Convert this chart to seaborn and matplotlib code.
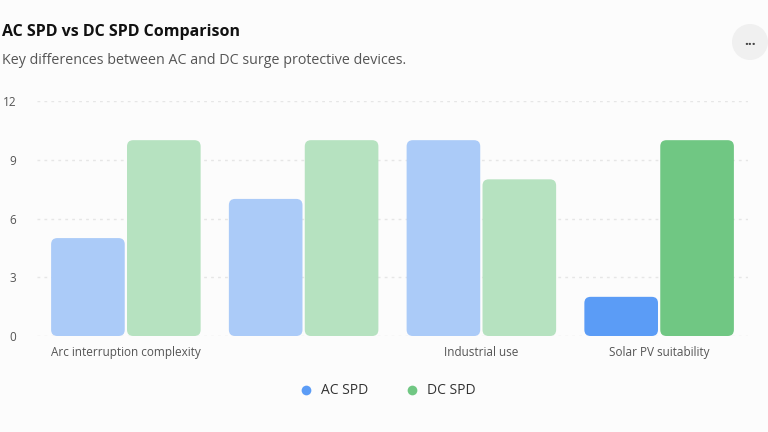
import pandas as pd
import seaborn as sns
import matplotlib.pyplot as plt
from matplotlib.patches import FancyBboxPatch, Ellipse
from matplotlib.lines import Line2D

categories = ['Arc interruption complexity', 'Voltage handling', 'Industrial use', 'Solar PV suitability']
tick_labels = ['Arc interruption complexity', '', 'Industrial use', 'Solar PV suitability']
ac_spd = [5, 7, 10, 2]
dc_spd = [10, 10, 8, 10]
highlight = 'Solar PV suitability'

df = pd.DataFrame({
    'category': categories * 2,
    'type': ['AC SPD'] * 4 + ['DC SPD'] * 4,
    'score': ac_spd + dc_spd,
})

light = {'AC SPD': '#abcbf8', 'DC SPD': '#b6e2c0'}
full = {'AC SPD': '#5b9cf6', 'DC SPD': '#70c783'}

sns.set_style('white')
plt.rcParams['font.family'] = ['Open Sans', 'DejaVu Sans']

fig = plt.figure(figsize=(7.68, 4.32), dpi=100, facecolor='#fcfcfc')
ax = fig.add_axes([37/768, 96/432, 711/768, 235/432])
ax.set_facecolor('#fcfcfc')

sns.barplot(data=df, x='category', y='score', hue='type', order=categories,
            hue_order=['AC SPD', 'DC SPD'], palette=full, width=0.854, gap=0.03,
            legend=False, ax=ax)

ax.set_xlim(-0.5, 3.5)
ax.set_ylim(0, 12)

# swap plain bars for rounded ones
aspect = (1/19.58) / (1/177.75)
bars = list(ax.patches)
for i, p in enumerate(bars):
    kind = 'AC SPD' if i < 4 else 'DC SPD'
    cat = categories[i % 4]
    col = full[kind] if cat == highlight else light[kind]
    x, y, w, h = p.get_x(), p.get_y(), p.get_width(), p.get_height()
    p.remove()
    ax.add_patch(FancyBboxPatch((x, y), w, h,
                                boxstyle='round,pad=0,rounding_size=0.035',
                                mutation_aspect=aspect, facecolor=col,
                                edgecolor='none', zorder=3))

ax.set_yticks([0, 3, 6, 9, 12])
ax.set_xticks(range(4))
ax.set_xticklabels(tick_labels)
ax.tick_params(axis='both', length=0, labelsize=8.5, labelcolor='#555555')
ax.tick_params(axis='y', pad=15)
ax.tick_params(axis='x', pad=7)
ax.set_xlabel('')
ax.set_ylabel('')
for s in ax.spines.values():
    s.set_visible(False)
ax.yaxis.grid(True, color='#e6e6e6', linestyle=(0, (2, 3)), linewidth=1)
ax.set_axisbelow(True)

fig.text(2/768, 1 - 32/432, 'AC SPD vs DC SPD Comparison', fontsize=11.5,
         fontweight='bold', color='#111111', va='center')
fig.text(2/768, 1 - 61/432, 'Key differences between AC and DC surge protective devices.',
         fontsize=10.3, color='#555555', va='center')

fig.patches.append(Ellipse((750/768, 1 - 42/432), 36/768, 36/432, transform=fig.transFigure,
                           facecolor='#f0f0f0', edgecolor='none'))
fig.text(750/768, 1 - 41/432, '...', fontsize=10, ha='center', va='center',
         color='#444444', fontweight='bold')

handles = [Line2D([0], [0], marker='o', linestyle='', markersize=7,
                  markerfacecolor=full[k], markeredgecolor='none', label=k)
           for k in ['AC SPD', 'DC SPD']]
fig.legend(handles=handles, loc='center', bbox_to_anchor=(384/768, 1 - 391/432),
           ncol=2, frameon=False, fontsize=10, handletextpad=0.1,
           columnspacing=2.1, labelcolor='#333333')

fig.savefig('out.png', dpi=100, facecolor=fig.get_facecolor())
